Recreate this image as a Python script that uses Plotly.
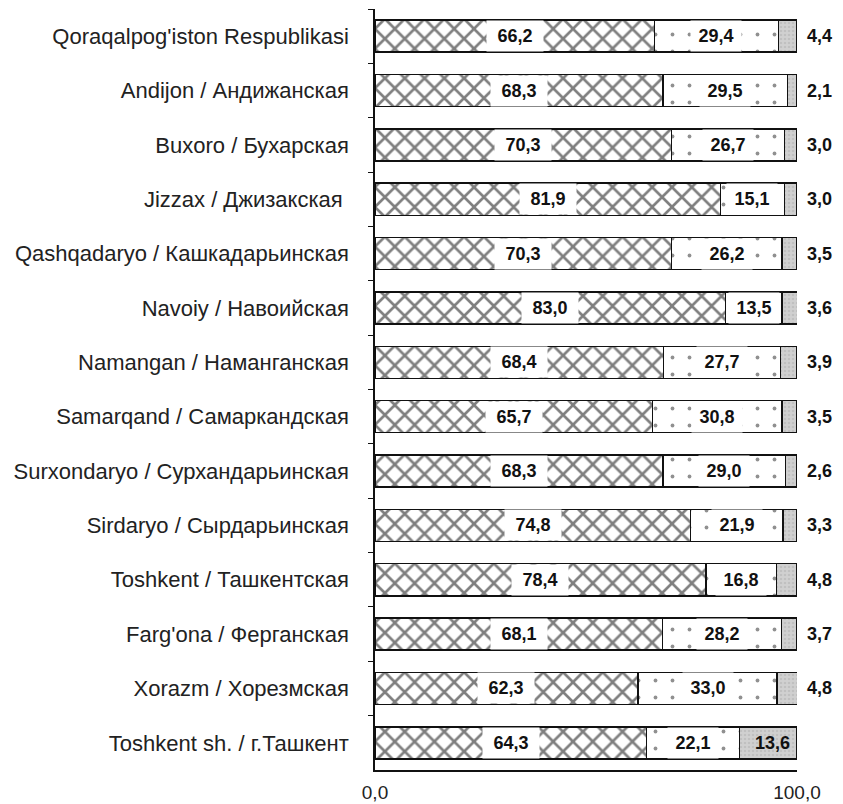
import plotly.graph_objects as go

regions = [
    "Qoraqalpog'iston Respublikasi",
    "Andijon / Андижанская",
    "Buxoro / Бухарская",
    "Jizzax / Джизакская\u00a0",
    "Qashqadaryo / Кашкадарьинская",
    "Navoiy / Навоийская",
    "Namangan / Наманганская",
    "Samarqand / Самаркандская",
    "Surxondaryo / Сурхандарьинская",
    "Sirdaryo / Сырдарьинская",
    "Toshkent / Ташкентская",
    "Farg'ona / Ферганская",
    "Xorazm / Хорезмская",
    "Toshkent sh. / г.Ташкент",
]
share_a = [66.2, 68.3, 70.3, 81.9, 70.3, 83.0, 68.4, 65.7, 68.3, 74.8, 78.4, 68.1, 62.3, 64.3]
share_b = [29.4, 29.5, 26.7, 15.1, 26.2, 13.5, 27.7, 30.8, 29.0, 21.9, 16.8, 28.2, 33.0, 22.1]
share_c = [4.4, 2.1, 3.0, 3.0, 3.5, 3.6, 3.9, 3.5, 2.6, 3.3, 4.8, 3.7, 4.8, 13.6]
x_ticks = [0, 100]

FONT = "Arial, Liberation Sans, sans-serif"
line = dict(color="#111", width=1.5)

fig = go.Figure()
fig.add_trace(go.Bar(
    y=regions, x=share_a, orientation="h", cliponaxis=False,
    marker=dict(color="white", line=line,
                pattern=dict(shape="x", size=14, solidity=0.34, fgcolor="#000", bgcolor="white")),
    hoverinfo="skip"))
fig.add_trace(go.Bar(
    y=regions, x=share_b, orientation="h", cliponaxis=False,
    marker=dict(color="white", line=line,
                pattern=dict(shape=".", size=17, solidity=0.04, fgcolor="#222", bgcolor="white")),
    hoverinfo="skip"))
fig.add_trace(go.Bar(
    y=regions, x=share_c, orientation="h", cliponaxis=False,
    marker=dict(color="#cbcbcb", line=line,
                pattern=dict(shape=".", size=4, solidity=0.3, fgcolor="#b0b0b0", bgcolor="#d0d0d0")),
    hoverinfo="skip"))

def fmt(v):
    return f"{v:.1f}".replace(".", ",")

ann = []
numfont = dict(family=FONT, size=18, color="#111")
for r, a, b, c in zip(regions, share_a, share_b, share_c):
    ann.append(dict(x=a / 2, y=r, text=f"<b>{fmt(a)}</b>", showarrow=False,
                    bgcolor="white", width=54, height=28, font=numfont))
    ann.append(dict(x=a + b / 2, y=r, text=f"<b>{fmt(b)}</b>", showarrow=False,
                    bgcolor="white", width=48, height=28, font=numfont))
    if c >= 10:
        ann.append(dict(x=a + b + c / 2, y=r, text=f"<b>{fmt(c)}</b>", showarrow=False,
                        xshift=4, font=numfont))
    else:
        ann.append(dict(x=100, y=r, text=f"<b>{fmt(c)}</b>", showarrow=False,
                        xanchor="left", xshift=8, font=numfont))

# page body adds an 8px offset, margins compensate for it
fig.update_layout(
    barmode="stack", bargap=0.41, showlegend=False,
    width=843, height=796,
    margin=dict(l=367, r=54, t=1, b=34),
    plot_bgcolor="white", paper_bgcolor="white",
    separators=", ",
    font=dict(family=FONT, size=22, color="#222"),
    annotations=ann,
)
fig.update_yaxes(autorange="reversed", showline=True, linecolor="#111", linewidth=1.5,
                 ticks="outside", tickson="boundaries", ticklen=5, tickcolor="#111",
                 ticklabelstandoff=20, showgrid=False, zeroline=False,
                 tickfont=dict(family=FONT, size=22, color="#222"))
fig.update_xaxes(range=[0, 100], tickvals=x_ticks, tickformat=".1f",
                 showline=True, linecolor="#111", linewidth=1.5,
                 ticks="inside", ticklen=6, tickcolor="#111",
                 ticklabelstandoff=4, showgrid=False, zeroline=False,
                 tickfont=dict(family=FONT, size=19, color="#222"))

fig.write_html("out.html")
